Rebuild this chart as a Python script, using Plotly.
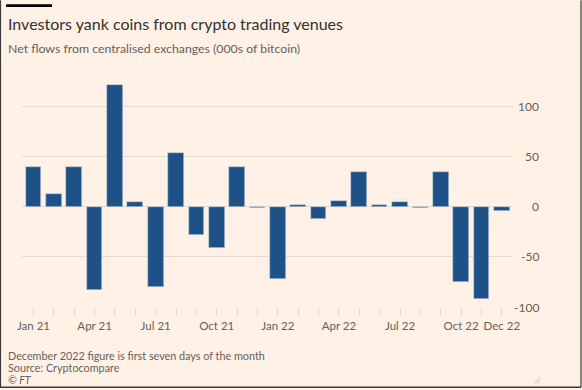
import plotly.graph_objects as go

months = ["Jan 21", "Feb 21", "Mar 21", "Apr 21", "May 21", "Jun 21", "Jul 21", "Aug 21",
          "Sep 21", "Oct 21", "Nov 21", "Dec 21", "Jan 22", "Feb 22", "Mar 22", "Apr 22",
          "May 22", "Jun 22", "Jul 22", "Aug 22", "Sep 22", "Oct 22", "Nov 22", "Dec 22"]
net_flows = [40, 13, 40, -83, 122, 5, -80, 54, -28, -41, 40, -1,
             -72, 2, -12, 6, 35, 2, 5, -1, 35, -75, -92, -4]
labelled_months = ["Jan 21", "Apr 21", "Jul 21", "Oct 21", "Jan 22", "Apr 22", "Jul 22", "Oct 22", "Dec 22"]
y_ticks = [100, 50, 0, -50, -100]

W, H = 582, 390
L, R, T, B = 22, 69, 80, 82.5
PW, PH = W - L - R, H - T - B

def px(x):
    return (x - L) / PW

def py(y):
    return (H - B - y) / PH

BG = "#fff1e5"
GRID = "#e6d9ce"
TXT = "#66605c"
FONT = "Lato"

xs = list(range(len(months)))
ticktext = [m if m in labelled_months else "" for m in months]

fig = go.Figure()
fig.add_trace(go.Bar(
    x=xs, y=net_flows, width=0.77,
    marker=dict(color="#1e5188", line=dict(color="#c9d3dc", width=0.6)),
    hoverinfo="skip",
))

annotations = [
    dict(text="Investors yank coins from crypto trading venues", x=px(6), y=py(23),
         xref="paper", yref="paper", xanchor="left", yanchor="middle", showarrow=False,
         font=dict(family=FONT, size=16, color="#33302e")),
    dict(text="Net flows from centralised exchanges (000s of bitcoin)", x=px(6), y=py(48),
         xref="paper", yref="paper", xanchor="left", yanchor="middle", showarrow=False,
         font=dict(family=FONT, size=12.3, color=TXT)),
    dict(text="December 2022 figure is first seven days of the month", x=px(6), y=py(356),
         xref="paper", yref="paper", xanchor="left", yanchor="middle", showarrow=False,
         font=dict(family=FONT, size=10.8, color=TXT)),
    dict(text="Source: Cryptocompare", x=px(6), y=py(368.5),
         xref="paper", yref="paper", xanchor="left", yanchor="middle", showarrow=False,
         font=dict(family=FONT, size=10.8, color=TXT)),
    dict(text="<i>© FT</i>", x=px(6), y=py(380.5),
         xref="paper", yref="paper", xanchor="left", yanchor="middle", showarrow=False,
         font=dict(family=FONT, size=10.5, color=TXT)),
]
for v in y_ticks:
    annotations.append(dict(text=f"{v}", x=px(541), y=v, xref="paper", yref="y",
                            xanchor="right", yanchor="middle", showarrow=False,
                            font=dict(family=FONT, size=12, color=TXT)))

shapes = [
    dict(type="rect", xref="paper", yref="paper", x0=px(6), x1=px(52), y0=py(4), y1=py(6.8),
         fillcolor="#000000", line=dict(width=0)),
    dict(type="line", xref="paper", yref="paper", x0=px(0.5), x1=px(0.5), y0=py(0), y1=py(388),
         line=dict(color="#3a3a3a", width=1.2)),
    dict(type="line", xref="paper", yref="paper", x0=px(0), x1=px(581), y0=py(388), y1=py(388),
         line=dict(color="#3a3a3a", width=1.5)),
    dict(type="line", xref="paper", yref="paper", x0=px(581), x1=px(581), y0=py(0), y1=py(388),
         line=dict(color="#3a3a3a", width=1.2)),
    dict(type="path", xref="paper", yref="paper",
         path=f"M {px(540)} {py(377)} L {px(540)} {py(384)} L {px(533)} {py(384)} Z",
         fillcolor="#e4dcd4", line=dict(width=0)),
]

fig.update_layout(
    width=W, height=H,
    margin=dict(l=L, r=R, t=T, b=B, pad=0),
    paper_bgcolor=BG, plot_bgcolor=BG,
    showlegend=False, bargap=0,
    font=dict(family=FONT, color=TXT),
    annotations=annotations, shapes=shapes,
    xaxis=dict(range=[-0.565, 23.55], tickmode="array", tickvals=xs, ticktext=ticktext,
               showgrid=False, zeroline=False, showline=False,
               ticks="outside", ticklen=8, tickcolor=GRID, tickwidth=1,
               tickfont=dict(family=FONT, size=11.5, color=TXT), fixedrange=True),
    yaxis=dict(range=[-100, 126.6], tickvals=y_ticks, showticklabels=False,
               showgrid=True, gridcolor=GRID, gridwidth=1, zeroline=False, showline=False,
               fixedrange=True),
)

fig.write_html("out.html", config={"displayModeBar": False},
               post_script="document.body.style.margin='0px';document.body.style.overflow='hidden';")
